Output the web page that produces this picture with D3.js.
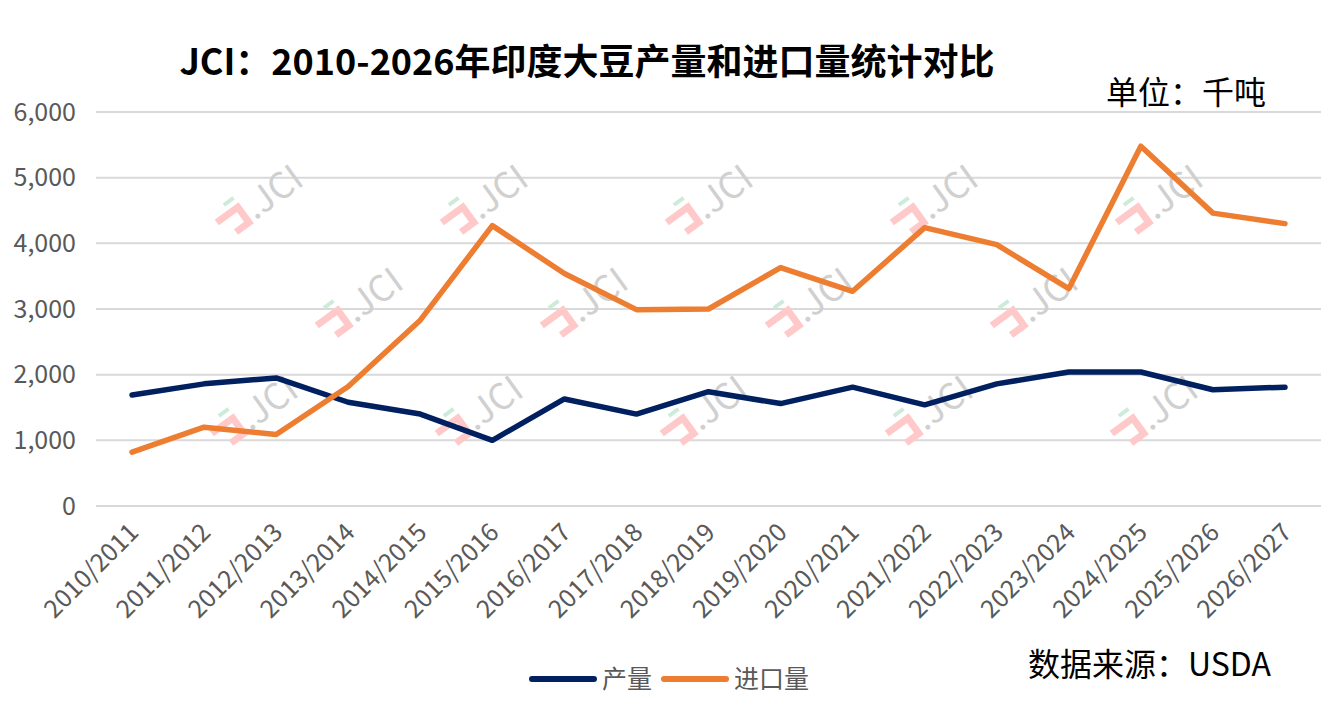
<!DOCTYPE html>
<html>
<head>
<meta charset="utf-8">
<script src="https://cdn.jsdelivr.net/npm/d3@7"></script>
<style>
  body { margin: 0; background: #fff; }
  svg { display: block; font-family: "Noto Sans CJK SC", "Noto Sans", sans-serif; }
</style>
</head>
<body>
<div id="chart"></div>
<script>
/* data */
const seasons = [
  "2010/2011", "2011/2012", "2012/2013", "2013/2014", "2014/2015", "2015/2016",
  "2016/2017", "2017/2018", "2018/2019", "2019/2020", "2020/2021", "2021/2022",
  "2022/2023", "2023/2024", "2024/2025", "2025/2026", "2026/2027"
];
const production = [1690, 1860, 1950, 1580, 1400, 1000, 1630, 1400, 1740, 1560, 1810, 1540, 1860, 2040, 2040, 1770, 1810];
const imports = [820, 1200, 1090, 1820, 2830, 4270, 3540, 2990, 3000, 3630, 3270, 4240, 3980, 3310, 5480, 4460, 4300];
const yTicks = [0, 1000, 2000, 3000, 4000, 5000, 6000];
const seriesNames = ["产量", "进口量"];
const colors = ["#002060", "#ED7D31"];

const width = 1332, height = 709;
const margin = { top: 112, right: 11, bottom: 203, left: 96 };
const plotW = width - margin.left - margin.right;
const plotH = height - margin.top - margin.bottom;

const svg = d3.select("#chart").append("svg")
  .attr("width", width)
  .attr("height", height);

const x = d3.scalePoint().domain(seasons).range([0, plotW]).padding(0.5);
const y = d3.scaleLinear().domain([0, 6000]).range([plotH, 0]);

const g = svg.append("g")
  .attr("transform", `translate(${margin.left},${margin.top})`);

/* gridlines */
g.append("g")
  .selectAll("line")
  .data(yTicks)
  .join("line")
  .attr("x1", 0)
  .attr("x2", plotW)
  .attr("y1", (d) => y(d))
  .attr("y2", (d) => y(d))
  .attr("stroke", "#d9d9d9")
  .attr("stroke-width", 2);

/* watermarks (pure decoration), three staggered rows */
const rows = [
  { x0: 250, y0: 95, n: 5 },
  { x0: 350, y0: 198, n: 4 },
  { x0: 245, y0: 306, n: 5 }
];
const wm = g.append("g");
rows.forEach((r) => {
  for (let c = 0; c < r.n; c++) {
    const m = wm.append("g")
      .attr("transform", `translate(${r.x0 + c * 225 - margin.left},${r.y0}) rotate(-36)`);
    m.append("path")
      .attr("d", "M-36,-7 L-10,-7 L-10,12 L-26,12")
      .attr("fill", "none")
      .attr("stroke", "#ffc9c9")
      .attr("stroke-width", 7);
    m.append("line")
      .attr("x1", -20).attr("x2", -8).attr("y1", -17).attr("y2", -17)
      .attr("stroke", "#cdebd9").attr("stroke-width", 4);
    m.append("text")
      .attr("x", -4)
      .attr("y", 14)
      .attr("font-size", 36)
      .attr("fill", "#d0d0d0")
      .text(".JCI");
  }
});

/* y axis labels */
g.append("g")
  .selectAll("text")
  .data(yTicks)
  .join("text")
  .attr("x", -20)
  .attr("y", (d) => y(d))
  .attr("dy", "0.35em")
  .attr("text-anchor", "end")
  .attr("font-size", 25)
  .attr("fill", "#595959")
  .text((d) => d3.format(",")(d));

/* x axis labels */
g.append("g")
  .selectAll("text")
  .data(seasons)
  .join("text")
  .attr("transform", (d) => `translate(${x(d) + 8},${plotH + 28}) rotate(-45)`)
  .attr("text-anchor", "end")
  .attr("font-size", 25)
  .attr("fill", "#595959")
  .text((d) => d);

/* lines */
const line = d3.line()
  .x((d, i) => x(seasons[i]))
  .y((d) => y(d));

[production, imports].forEach((vals, i) => {
  g.append("path")
    .datum(vals)
    .attr("d", line)
    .attr("fill", "none")
    .attr("stroke", colors[i])
    .attr("stroke-width", 5.5)
    .attr("stroke-linejoin", "round")
    .attr("stroke-linecap", "round");
});

/* title and notes */
svg.append("text")
  .attr("x", 587)
  .attr("y", 75)
  .attr("text-anchor", "middle")
  .attr("font-size", 36)
  .attr("font-weight", "bold")
  .attr("fill", "#000")
  .text("JCI：2010-2026年印度大豆产量和进口量统计对比");

svg.append("text")
  .attr("x", 1266)
  .attr("y", 104)
  .attr("text-anchor", "end")
  .attr("font-size", 32)
  .attr("fill", "#000")
  .text("单位：千吨");

svg.append("text")
  .attr("x", 1271)
  .attr("y", 676)
  .attr("text-anchor", "end")
  .attr("font-size", 32)
  .attr("fill", "#000")
  .text("数据来源：USDA");

/* legend */
const legend = svg.append("g").attr("transform", "translate(530,679)");
const legX = [0, 132];
seriesNames.forEach((name, i) => {
  const item = legend.append("g").attr("transform", `translate(${legX[i]},0)`);
  item.append("line")
    .attr("x1", 2).attr("x2", 64)
    .attr("stroke", colors[i])
    .attr("stroke-width", 6)
    .attr("stroke-linecap", "round");
  item.append("text")
    .attr("x", 72)
    .attr("dy", "0.35em")
    .attr("font-size", 25)
    .attr("fill", "#595959")
    .text(name);
});
</script>
</body>
</html>
